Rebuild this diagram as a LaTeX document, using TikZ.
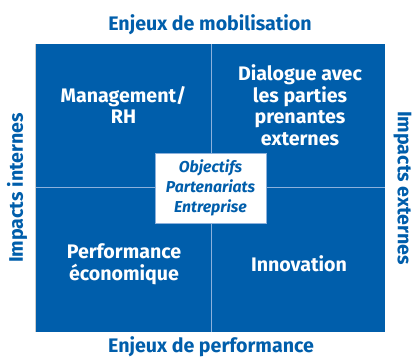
\documentclass[tikz,border=0pt]{standalone}
\usepackage{fontspec}
\setmainfont{Fira Sans}
\definecolor{brandblue}{HTML}{005EAB}
\definecolor{divider}{HTML}{8CB1DC}
\begin{document}
\begin{tikzpicture}[x=1pt,y=-1pt,
  quadtext/.style={text=white,font=\bfseries\fontsize{19.6}{21.5}\selectfont,align=center,inner sep=0pt},
  axislabel/.style={text=brandblue,font=\bfseries\fontsize{19.6}{22}\selectfont,inner sep=0pt},
  corebox/.style={draw=divider,line width=0.8pt,fill=white,minimum width=111pt,minimum height=70pt,
    text=brandblue,font=\bfseries\itshape\fontsize{15.8}{20}\selectfont,align=center,inner sep=0pt},
  rule/.style={draw=divider,line width=1pt}]
\useasboundingbox (0,0) rectangle (412,358);
% blue field of the matrix
\fill[brandblue] (36,44) rectangle (385,332);
\draw[draw=black!20,line width=0.8pt] (35.6,44) -- (35.6,332);
% dividing axes
\coordinate (ntop) at (211,44);
\coordinate (nbottom) at (211,332);
\coordinate (nleft) at (36,188);
\coordinate (nright) at (385,188);
\draw[rule] (ntop) -- (nbottom);
\draw[rule] (nleft) -- (nright);
% quadrant labels
\node[quadtext] (mgmt) at (123.5,105) {Management/\\RH};
\node[quadtext] (dialog) at (300,105) {Dialogue avec\\les parties\\prenantes\\externes};
\node[quadtext] (perf) at (124,264) {Performance\\économique};
\node[quadtext] (innov) at (299,264) {Innovation};
% central box
\node[corebox] (core) at (210.5,188) {Objectifs\\Partenariats\\Entreprise};
% axis titles
\node[axislabel] (mobil) at (210,25) {Enjeux de mobilisation};
\node[axislabel] (perfo) at (211,347) {Enjeux de performance};
\node[axislabel,rotate=90] (internes) at (17,188) {Impacts internes};
\node[axislabel,rotate=-90] (externes) at (402.5,188) {Impacts externes};
\end{tikzpicture}
\end{document}
